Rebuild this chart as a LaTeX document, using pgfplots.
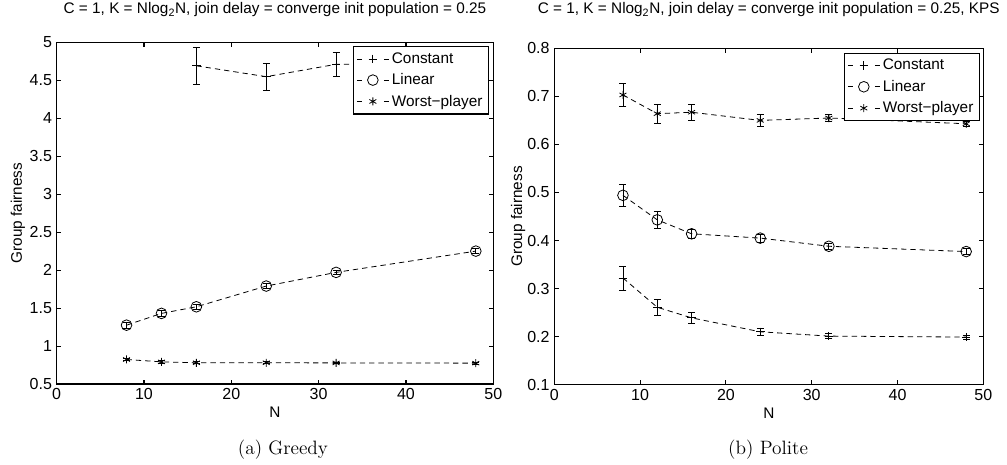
\documentclass[border=0pt]{standalone}
\usepackage{fontspec}
\usepackage{pgfplots}
\pgfplotsset{compat=1.18}
\newfontfamily\arial[Ligatures=TeX]{Liberation Sans}

\pgfplotstableread{
x y e
16 4.69 0.24
24 4.547 0.175
32 4.71 0.16
48 4.72 0.10
}\gConst
\pgfplotstableread{
x y e
8 1.275 0.04
12 1.43 0.035
16 1.517 0.03
24 1.79 0.03
32 1.97 0.025
48 2.25 0.03
}\gLin
\pgfplotstableread{
x y e
8 0.823 0.015
12 0.792 0.015
16 0.78 0.012
24 0.78 0.012
32 0.778 0.012
48 0.775 0.012
}\gWorst
\pgfplotstableread{
x y e
8 0.322 0.025
12 0.261 0.016
16 0.239 0.012
24 0.210 0.007
32 0.201 0.005
48 0.199 0.004
}\pConst
\pgfplotstableread{
x y e
8 0.494 0.022
12 0.443 0.018
16 0.414 0.010
24 0.405 0.008
32 0.388 0.006
48 0.377 0.006
}\pLin
\pgfplotstableread{
x y e
8 0.703 0.024
12 0.664 0.020
16 0.667 0.016
24 0.650 0.013
32 0.655 0.008
48 0.643 0.005
}\pWorst

\pgfplotsset{
  mystyle/.style={
    scale only axis,
    xmin=0,xmax=50,
    xtick={0,10,...,50},
    tick align=inside,
    major tick length=3.3pt,
    axis line style={line width=0.8pt},
    every tick/.style={black, line width=0.8pt},
    tick label style={font=\arial\fontsize{12}{14}\selectfont},
    /pgf/number format/assume math mode=true,
    label style={font=\arial\fontsize{11.5}{13}\selectfont},
    xlabel={N},
    ylabel={Group fairness},
    title style={font=\arial\fontsize{11.5}{13}\selectfont, at={(0.5,1)}, anchor=base},
    legend style={font=\arial\fontsize{11.5}{13}\selectfont, draw=black, line width=0.8pt, anchor=north east, inner sep=2.5pt, row sep=2.2pt, fill=white},
    legend cell align=left,
    legend image code/.code={\draw[dash pattern=on 3.75pt off 16.5pt, mark repeat=2,mark phase=2] plot coordinates {(0pt,0pt)(12pt,0pt)(24pt,0pt)};},
    cycle list={{black},{black},{black}},
    every axis plot/.append style={black, line width=0.6pt, dash pattern=on 4pt off 3pt, mark options={solid, black}},
    error bars/y dir=both,
    error bars/y explicit,
    error bars/error bar style={solid, black, line width=0.6pt},
    error bars/error mark options={rotate=90, mark size=2.6pt, black, solid, line width=0.6pt},
  }
}

\begin{document}
\begin{tikzpicture}
\useasboundingbox (-42.5pt,-60pt) rectangle (712.7pt,288pt);
\begin{axis}[mystyle,
  width=327.45pt, height=256.3pt,
  at={(0pt,0pt)}, anchor=south west,
  ymin=0.5, ymax=5,
  ytick={0.5,1,...,5},
  title={C = 1, K = Nlog\textsubscript{2}N, join delay = converge init population = 0.25},
  title style={yshift=15.4pt},
  xlabel style={at={([yshift=-21pt]rel axis cs:0.5,0)}, anchor=center},
  ylabel style={at={([xshift=-29pt]rel axis cs:0,0.5)}, anchor=center},
  legend style={at={(0.99,0.989)}},
]
\addplot[mark=+, mark size=3.2pt] table[x=x,y=y,y error=e] {\gConst};
\addplot[mark=o, mark size=4pt] table[x=x,y=y,y error=e] {\gLin};
\addplot[mark=asterisk, mark size=3pt] table[x=x,y=y,y error=e] {\gWorst};
\legend{Constant, Linear, Worst−player}
\end{axis}

\begin{axis}[mystyle,
  width=321.75pt, height=252.2pt,
  at={(373.2pt,-0.45pt)}, anchor=south west,
  ymin=0.1, ymax=0.8,
  ytick={0.1,0.2,...,0.8},
  yticklabel style={/pgf/number format/fixed, /pgf/number format/precision=1},
  title={C = 1, K = Nlog\textsubscript{2}N, join delay = converge init population = 0.25, KPS},
  title style={yshift=19.95pt},
  xlabel style={at={([yshift=-21.5pt]rel axis cs:0.5,0)}, anchor=center},
  ylabel style={at={([xshift=-27.2pt]rel axis cs:0,0.5)}, anchor=center},
  legend style={at={(0.992,0.987)}},
]
\addplot[mark=+, mark size=3.2pt] table[x=x,y=y,y error=e] {\pConst};
\addplot[mark=o, mark size=4pt] table[x=x,y=y,y error=e] {\pLin};
\addplot[mark=asterisk, mark size=3pt] table[x=x,y=y,y error=e] {\pWorst};
\legend{Constant, Linear, Worst−player}
\end{axis}

\node[font=\fontsize{14.5}{16}\selectfont] at (169.7pt,-49.5pt) {(a) Greedy};
\node[font=\fontsize{14.5}{16}\selectfont] at (533.5pt,-49.5pt) {(b) Polite};
\end{tikzpicture}
\end{document}
